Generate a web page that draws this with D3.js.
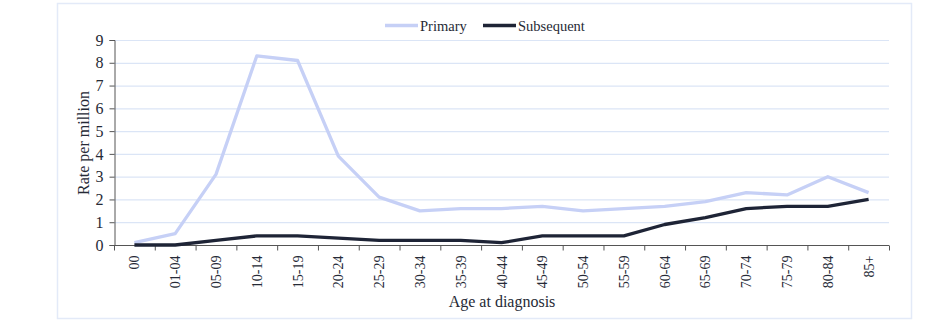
<!DOCTYPE html>
<html><head><meta charset="utf-8">
<script src="https://cdn.jsdelivr.net/npm/d3@7"></script>
<style>body{margin:0;background:#fff}svg{display:block}svg text{font-family:'Liberation Serif',serif !important;fill:#262a36}</style>
</head><body><svg id="c" width="936" height="332"></svg>
<script>
const categories = ["00","01-04","05-09","10-14","15-19","20-24","25-29","30-34","35-39","40-44","45-49","50-54","55-59","60-64","65-69","70-74","75-79","80-84","85+"];
const primary = [0.1,0.5,3.1,8.3,8.1,3.9,2.1,1.5,1.6,1.6,1.7,1.5,1.6,1.7,1.9,2.3,2.2,3.0,2.3];
const subsequent = [0,0,0.2,0.4,0.4,0.3,0.2,0.2,0.2,0.1,0.4,0.4,0.4,0.9,1.2,1.6,1.7,1.7,2.0];
const yTicks = [0,1,2,3,4,5,6,7,8,9];
const seriesNames = ["Primary","Subsequent"];
const colors = ["#c6d0f6","#1e2436"];
const FONT = "'Liberation Serif', serif";

const svg = d3.select("#c");
svg.append("rect").attr("x",57.5).attr("y",3.5).attr("width",854).attr("height",315)
  .attr("fill","#fff").attr("stroke","#e3eaf8").attr("stroke-width",1.5);

const x = d3.scaleBand().domain(categories).range([114,889]);
const y = d3.scaleLinear().domain([0,9]).range([245,40]);

// gridlines
svg.append("g").selectAll("line").data(yTicks.filter(d=>d>0)).join("line")
  .attr("x1",114).attr("x2",889).attr("y1",d=>y(d)+0.5).attr("y2",d=>y(d)+0.5)
  .attr("stroke","#dbe5f6").attr("stroke-width",1.2);

// y axis
const ya = svg.append("g").attr("transform","translate(114.5,0)")
  .call(d3.axisLeft(y).tickValues(yTicks).tickSize(5).tickPadding(6));
ya.attr("font-family",FONT);
ya.select(".domain").attr("stroke","#555");
ya.selectAll(".tick line").attr("stroke","#555");
ya.selectAll("text").attr("font-family",FONT).attr("font-size",16).attr("fill","#262a36");

// x axis
const xa = svg.append("g").attr("transform","translate(0,245.5)");
xa.append("line").attr("x1",114).attr("x2",889).attr("stroke","#555");
const bounds = categories.map(c=>x(c)).concat([889]);
xa.selectAll("line.t").data(bounds).join("line").attr("class","t")
  .attr("x1",d=>d+0.5).attr("x2",d=>d+0.5).attr("y1",0).attr("y2",5).attr("stroke","#555");
xa.selectAll("text").data(categories).join("text")
  .attr("transform",d=>`translate(${x(d)+x.bandwidth()/2+5},10) rotate(-90)`)
  .attr("text-anchor","end").attr("font-family",FONT).attr("font-size",14).text(d=>d);

// lines
const line = d3.line().x((d,i)=>x(categories[i])+x.bandwidth()/2).y(d=>y(d));
[primary,subsequent].forEach((s,k)=>{
  svg.append("path").datum(s).attr("d",line).attr("fill","none")
    .attr("stroke",colors[k]).attr("stroke-width",3.3).attr("stroke-linejoin","round");
});

// axis titles
svg.append("text").attr("transform","translate(89,143) rotate(-90)").attr("text-anchor","middle")
  .attr("font-family",FONT).attr("font-size",16).text("Rate per million");
svg.append("text").attr("x",502).attr("y",307).attr("text-anchor","middle")
  .attr("font-family",FONT).attr("font-size",16).text("Age at diagnosis");

// legend
const leg = [{x:385},{x:483}];
seriesNames.forEach((n,k)=>{
  svg.append("line").attr("x1",leg[k].x).attr("x2",leg[k].x+33).attr("y1",25.5).attr("y2",25.5)
    .attr("stroke",colors[k]).attr("stroke-width",3.3);
  svg.append("text").attr("x",leg[k].x+35).attr("y",30.5).attr("font-family",FONT).attr("font-size",14.5).text(n);
});
</script></body></html>
